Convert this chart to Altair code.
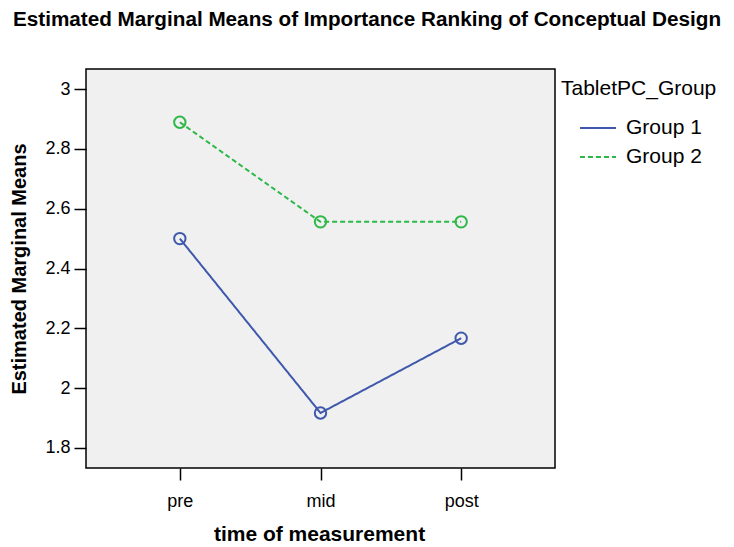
import altair as alt
import pandas as pd

times = ["pre", "mid", "post"]
groups = ["Group 1", "Group 2"]
group1_means = [2.500, 1.917, 2.167]
group2_means = [2.889, 2.556, 2.556]

rows = []
for t, v in zip(times, group1_means):
    rows.append({"time": t, "group": "Group 1", "mean": v})
for t, v in zip(times, group2_means):
    rows.append({"time": t, "group": "Group 2", "mean": v})
df = pd.DataFrame(rows)

FONT = "Liberation Sans"
colors = ["#3e58ac", "#2eb848"]

x = alt.X("time:N", sort=times, scale=alt.Scale(type="point", padding=0.667),
          axis=alt.Axis(title="time of measurement", labelAngle=0, titleX=233, titleY=72,
                        titleFontSize=21,
                        titleBaseline="alphabetic", titleAlign="center", labelPadding=12))
y = alt.Y("mean:Q", scale=alt.Scale(domain=[1.733, 3.067], nice=False, zero=False),
          axis=alt.Axis(title="Estimated Marginal Means", values=[1.8, 2, 2.2, 2.4, 2.6, 2.8, 3],
                        format="~g", grid=False, labelPadding=4, titleX=-67, titleY=199.5,
                        titleBaseline="middle", titleAlign="center", titleAngle=-90))

lines = alt.Chart(df).mark_line(strokeWidth=2).encode(
    x=x, y=y,
    color=alt.Color("group:N", scale=alt.Scale(domain=groups, range=colors),
                    legend=alt.Legend(title="TabletPC_Group")),
    strokeDash=alt.StrokeDash("group:N", scale=alt.Scale(domain=groups, range=[[1, 0], [5, 3]]),
                              legend=alt.Legend(title="TabletPC_Group")),
)

points = alt.Chart(df).mark_point(shape="circle", filled=False, size=130, strokeWidth=2,
                                   opacity=1).encode(
    x=x, y=y,
    stroke=alt.Stroke("group:N", scale=alt.Scale(domain=groups, range=colors), legend=None),
)

chart = alt.layer(lines, points).properties(
    width=469, height=399,
    autosize=alt.AutoSizeParams(type="none"),
    padding={"left": 78, "top": 61, "right": 171, "bottom": 79},
    title=alt.TitleParams(
        "Estimated Marginal Means of Importance Ranking of Conceptual Design",
        font=FONT, fontSize=20.7, fontWeight="bold", color="black",
        anchor="middle", frame="group", dx=46.5, offset=22, baseline="alphabetic"),
).configure(
    background="white",
).configure_view(
    fill="#f0f0f0", stroke="black", strokeWidth=1.5,
).configure_axis(
    labelFont=FONT, labelFontSize=18, labelColor="black",
    titleFont=FONT, titleFontSize=20, titleFontWeight="bold", titleColor="black",
    tickColor="black", tickSize=12, tickWidth=1.5, domain=False,
).configure_legend(
    orient="none", legendX=475, legendY=9, padding=0,
    titleFont=FONT, titleFontSize=21, titleFontWeight="normal", titleColor="black",
    titleBaseline="top", titlePadding=10,
    labelFont=FONT, labelFontSize=21, labelColor="black", labelOffset=9,
    symbolType="stroke", symbolSize=1296, symbolStrokeWidth=2, symbolOffset=18,
    rowPadding=-4,
)

chart.save("out.html", embed_options={"renderer": "svg", "actions": False})
